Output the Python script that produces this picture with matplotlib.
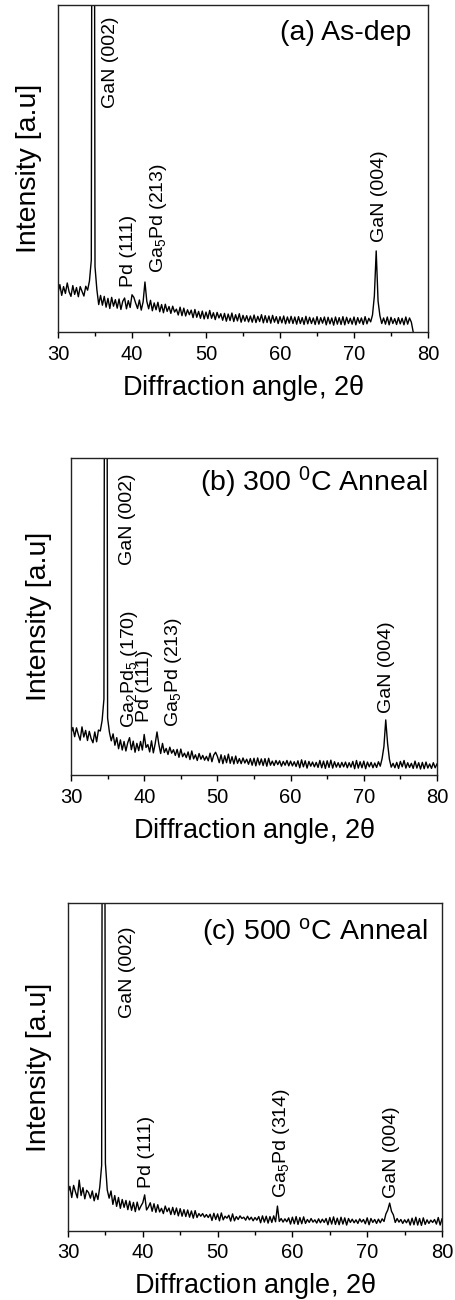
import matplotlib
matplotlib.use("Agg")
import matplotlib.pyplot as plt
import numpy as np
from matplotlib.ticker import MultipleLocator

plt.rcParams["font.family"] = ["Liberation Sans", "DejaVu Sans"]
plt.rcParams["mathtext.fontset"] = "custom"
plt.rcParams["mathtext.rm"] = "Liberation Sans"
plt.rcParams["mathtext.it"] = "Liberation Sans"
plt.rcParams["mathtext.default"] = "regular"

# intensities, in % of the plot height (0.25 deg steps)
two_theta_a = np.arange(30.0, 78.001, 0.25)
intensity_a = [
    12.0, 14.5, 11.2, 13.9, 11.8, 15.0, 12.3, 10.9,
    14.2, 11.5, 13.6, 10.8, 13.9, 12.4, 11.0, 14.0,
    12.8, 15.6, 22.0, 400.0, 20.0, 13.0, 8.4, 11.2,
    8.2, 10.9, 7.6, 10.3, 7.2, 10.6, 7.9, 9.9,
    7.3, 10.1, 6.9, 9.4, 10.4, 7.1, 9.6, 7.5,
    11.4, 10.6, 8.8, 7.2, 9.8, 6.7, 9.2, 15.3,
    9.4, 7.1, 9.7, 6.5, 8.9, 6.8, 9.1, 6.2,
    8.4, 5.9, 8.5, 6.3, 7.8, 5.7, 7.9, 6.1,
    7.0, 5.2, 7.6, 5.0, 7.3, 4.9, 6.8, 5.3,
    6.7, 4.4, 6.9, 4.5, 6.3, 4.2, 6.4, 4.0,
    6.1, 4.1, 6.6, 4.2, 5.9, 3.8, 6.0, 4.3,
    5.6, 3.6, 5.7, 3.3, 5.5, 3.5, 5.8, 3.2,
    5.3, 3.4, 5.6, 3.0, 5.1, 3.3, 5.0, 3.1,
    4.9, 3.0, 5.2, 2.9, 4.8, 3.2, 5.3, 2.8,
    5.0, 2.9, 4.9, 2.7, 5.1, 3.0, 4.7, 2.6,
    4.7, 2.8, 4.9, 2.5, 4.6, 2.7, 4.8, 2.6,
    4.6, 2.4, 4.7, 2.6, 4.4, 2.3, 4.8, 2.5,
    4.5, 2.6, 4.3, 2.3, 4.7, 2.4, 4.4, 2.7,
    4.6, 2.2, 4.5, 2.5, 4.3, 2.1, 4.6, 2.4,
    4.4, 2.3, 4.7, 2.2, 4.5, 2.6, 4.2, 2.4,
    4.6, 2.2, 4.4, 2.7, 4.3, 2.3, 4.7, 2.5,
    4.2, 3.1, 5.2, 11.0, 24.8, 9.5, 5.0, 2.6,
    4.3, 2.4, 4.6, 2.2, 4.5, 2.6, 4.1, 2.3,
    4.4, 2.5, 4.2, 2.2, 4.6, 2.4, 4.3, 3.0,
    0.0,
]

two_theta_b = np.arange(30.0, 80.001, 0.25)
intensity_b = [
    13.2, 15.0, 12.1, 14.9, 12.8, 11.0, 15.2, 12.0,
    14.1, 10.9, 13.8, 11.5, 10.2, 13.6, 10.5, 14.2,
    13.9, 17.2, 24.0, 400.0, 18.0, 13.5, 10.8, 13.0,
    9.4, 11.8, 8.3, 11.1, 7.9, 10.6, 7.6, 10.2,
    11.8, 8.0, 10.7, 7.2, 10.0, 7.7, 10.6, 7.9,
    12.8, 8.7, 9.6, 7.3, 10.8, 7.0, 9.9, 13.6,
    9.7, 6.8, 10.0, 7.1, 8.4, 6.5, 8.8, 6.9,
    8.0, 6.2, 8.1, 5.6, 8.2, 5.8, 6.9, 5.5,
    7.3, 4.9, 7.6, 5.1, 6.4, 4.6, 6.8, 5.0,
    6.2, 4.7, 5.9, 4.5, 6.9, 4.2, 6.3, 7.2,
    5.9, 3.9, 6.4, 3.6, 6.1, 3.9, 6.6, 3.7,
    5.8, 3.5, 6.0, 3.7, 5.2, 3.6, 5.4, 3.8,
    5.0, 3.4, 5.2, 3.1, 5.3, 2.9, 5.4, 3.2,
    5.1, 3.0, 5.2, 2.8, 5.3, 3.1, 4.4, 3.0,
    4.6, 3.3, 4.5, 2.8, 4.3, 3.1, 4.6, 2.9,
    4.4, 2.9, 4.2, 2.7, 4.5, 2.3, 4.8, 2.6,
    4.5, 2.2, 4.3, 2.8, 4.1, 2.6, 4.0, 2.4,
    4.6, 2.3, 4.4, 2.1, 4.5, 2.4, 4.7, 2.2,
    4.2, 2.5, 3.9, 2.4, 4.0, 2.6, 4.1, 2.3,
    3.9, 2.5, 4.3, 2.0, 4.6, 2.2, 4.2, 2.3,
    4.4, 2.0, 4.1, 2.6, 4.0, 2.3, 3.8, 2.4,
    4.2, 2.8, 5.2, 9.0, 17.4, 10.0, 5.0, 2.5,
    3.7, 2.3, 4.0, 2.1, 4.3, 2.6, 4.6, 2.2,
    3.9, 2.4, 3.7, 2.1, 4.4, 2.2, 3.9, 1.9,
    4.0, 2.0, 4.1, 2.2, 3.5, 2.1, 3.9, 2.3,
    3.5,
]

two_theta_c = np.arange(30.0, 80.001, 0.25)
intensity_c = [
    11.6, 13.6, 10.2, 13.9, 11.9, 10.1, 15.5, 10.8,
    13.2, 9.8, 12.4, 11.7, 10.0, 12.2, 9.2, 11.5,
    9.6, 13.4, 20.0, 400.0, 20.7, 12.5, 10.0, 12.2,
    8.1, 10.8, 7.5, 10.2, 6.9, 9.6, 7.2, 9.3,
    6.5, 9.1, 6.3, 8.7, 5.9, 8.8, 6.4, 7.6,
    8.6, 11.0, 6.4, 7.3, 8.6, 6.0, 8.3, 5.7,
    8.0, 5.8, 6.9, 5.3, 7.6, 5.9, 7.0, 5.0,
    7.2, 5.0, 7.0, 4.6, 6.8, 4.5, 6.5, 4.4,
    6.4, 4.2, 6.1, 3.9, 6.2, 4.1, 5.3, 4.5,
    5.3, 4.2, 5.0, 4.1, 5.1, 3.2, 5.4, 3.5,
    5.2, 3.1, 5.5, 3.4, 4.5, 3.9, 4.8, 3.0,
    5.2, 3.1, 4.4, 3.5, 4.6, 3.8, 4.2, 3.3,
    4.5, 3.4, 4.2, 3.1, 4.1, 3.3, 4.4, 2.5,
    4.6, 2.7, 4.5, 2.4, 4.4, 2.6, 4.6, 2.8,
    7.6, 2.9, 3.8, 2.7, 3.7, 2.8, 4.0, 2.1,
    4.2, 2.2, 4.4, 2.0, 4.1, 2.2, 4.3, 2.3,
    3.5, 2.6, 3.8, 2.7, 3.4, 2.4, 3.7, 2.5,
    3.6, 2.6, 3.8, 1.9, 4.1, 2.1, 4.3, 2.0,
    3.9, 1.9, 4.2, 2.1, 4.0, 1.8, 3.8, 2.6,
    3.6, 2.5, 3.4, 2.3, 3.7, 2.7, 3.5, 2.2,
    4.0, 1.9, 3.8, 2.6, 3.5, 2.3, 3.6, 2.5,
    3.7, 2.9, 5.2, 6.4, 8.5, 6.0, 4.9, 2.6,
    3.8, 2.7, 3.5, 2.3, 3.4, 2.5, 3.6, 1.8,
    3.9, 1.9, 4.2, 1.8, 3.8, 1.7, 4.0, 2.0,
    3.4, 2.3, 3.3, 2.6, 3.5, 2.1, 4.1, 1.8,
    3.7,
]

# peak labels: text, 2theta, height of the label foot
labels_a = ["GaN (002)", "Pd (111)", "Ga$_5$Pd (213)", "GaN (004)"]
label_x_a = [37.07, 39.5, 43.6, 73.5]
label_y_a = [68.5, 13.8, 18.0, 27.5]

labels_b = ["GaN (002)", "Ga$_2$Pd$_5$ (170)", "Pd (111)", "Ga$_5$Pd (213)", "GaN (004)"]
label_x_b = [37.7, 38.0, 40.05, 44.0, 73.1]
label_y_b = [66.2, 14.8, 16.7, 15.1, 19.6]

labels_c = ["GaN (002)", "Pd (111)", "Ga$_5$Pd (314)", "GaN (004)"]
label_x_c = [38.0, 40.56, 58.5, 73.3]
label_y_c = [64.9, 13.1, 10.1, 10.1]

panels = [
    dict(rect=[0.1272, 0.7446, 0.8114, 0.2515], x=two_theta_a, y=intensity_a,
         title="(a) As-dep", title_xy=(0.954, 0.914), ypad=11.5,
         labels=labels_a, lx=label_x_a, ly=label_y_a),
    dict(rect=[0.1557, 0.4038, 0.8026, 0.2438], x=two_theta_b, y=intensity_b,
         title="(b) 300 $^0$C Anneal", title_xy=(0.975, 0.924), ypad=13.5,
         labels=labels_b, lx=label_x_b, ly=label_y_b),
    dict(rect=[0.1491, 0.0531, 0.8202, 0.2523], x=two_theta_c, y=intensity_c,
         title="(c) 500 $^o$C Anneal", title_xy=(0.963, 0.912), ypad=11.5,
         labels=labels_c, lx=label_x_c, ly=label_y_c),
]

fig = plt.figure(figsize=(4.56, 13.0), dpi=100)

for p in panels:
    ax = fig.add_axes(p["rect"])
    ax.plot(p["x"], p["y"], color="black", lw=1.0)
    ax.set_xlim(30, 80)
    ax.set_ylim(0, 100)
    ax.set_yticks([])
    ax.xaxis.set_major_locator(MultipleLocator(10))
    ax.xaxis.set_minor_locator(MultipleLocator(5))
    ax.tick_params(axis="x", which="major", direction="out", length=4, width=1,
                   labelsize=14.5, pad=5)
    ax.tick_params(axis="x", which="minor", direction="out", length=2.8, width=1)
    for s in ax.spines.values():
        s.set_linewidth(1.0)
        s.set_color("#222222")
    ax.set_xlabel(r"Diffraction angle, 2$\theta$", fontsize=19.5, labelpad=6.5)
    ax.set_ylabel("Intensity [a.u]", fontsize=20.5, labelpad=p["ypad"])
    ax.text(*p["title_xy"], p["title"], transform=ax.transAxes,
            ha="right", va="center", fontsize=20.5)
    for t, xx, yy in zip(p["labels"], p["lx"], p["ly"]):
        ax.text(xx, yy, t, rotation=90, ha="center", va="bottom", fontsize=14)

fig.savefig("out.png", dpi=100)
